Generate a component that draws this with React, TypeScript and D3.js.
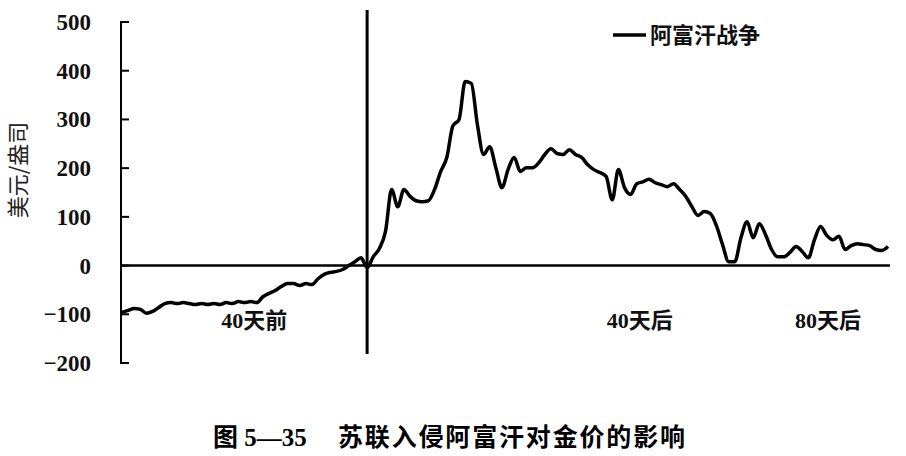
import React, { useEffect, useRef } from 'react';
import * as d3 from 'd3';

// days relative to the invasion (day 0)
const startDay = -40;

// gold price change, USD/oz, one value per day from day -40 to day 85
const priceChange: number[] = [
  -96, -92, -88, -90, -98, -94, -86, -78, -76, -78,
  -76, -78, -80, -78, -80, -78, -80, -76, -78, -74,
  -76, -74, -76, -64, -57, -51, -43, -37, -37, -41,
  -37, -39, -27, -18, -14, -12, -8, 0, 8, 16,
  -4,
  18, 35, 70, 156, 121, 156, 142, 133, 131, 133,
  156, 193, 222, 287, 300, 378, 374, 289, 228, 244,
  201, 160, 197, 222, 193, 201, 201, 211, 228, 240,
  230, 228, 238, 228, 222, 207, 197, 191, 183, 135,
  197, 160, 146, 168, 172, 177, 170, 166, 162, 168,
  156, 142, 121, 103, 111, 107, 82, 43, 8, 8,
  57, 90, 57, 86, 64, 33, 18, 18, 27, 39,
  29, 16, 53, 80, 62, 53, 60, 33, 41, 45,
  43, 41, 33, 31, 39,
];

const yTicks = [500, 400, 300, 200, 100, 0, -100, -200];

const xLabels = [
  { day: -18.4, text: '40天前' },
  { day: 44.5, text: '40天后' },
  { day: 75.2, text: '80天后' },
];

const seriesName = '阿富汗战争';
const yTitle = '美元/盎司';
const figTitle = '图 5—35';
const figCaption = '苏联入侵阿富汗对金价的影响';

const W = 906;
const H = 456;
const serif = '"Liberation Serif", "DejaVu Serif", serif';
const cjk = '"Noto Sans CJK SC", "Noto Sans CJK TC", sans-serif';

const App: React.FC = () => {
  const svgRef = useRef<SVGSVGElement>(null);

  useEffect(() => {
    if (!svgRef.current) return;
    const svg = d3.select(svgRef.current);
    svg.selectAll('*').remove();

    const data = priceChange.map((v, i) => ({ day: startDay + i, v }));
    const lastDay = startDay + priceChange.length - 1;

    const x = d3.scaleLinear().domain([startDay, lastDay]).range([122, 888]);
    const y = d3.scaleLinear().domain([-200, 500]).range([363, 22]);

    svg.append('rect').attr('width', W).attr('height', H).attr('fill', '#fff');

    // y axis
    const axisX = 121;
    svg
      .append('line')
      .attr('x1', axisX)
      .attr('x2', axisX)
      .attr('y1', y(500) - 1)
      .attr('y2', y(-200) + 1)
      .attr('stroke', '#000')
      .attr('stroke-width', 2);

    yTicks.forEach((t) => {
      svg
        .append('line')
        .attr('x1', axisX)
        .attr('x2', axisX + 8)
        .attr('y1', y(t))
        .attr('y2', y(t))
        .attr('stroke', '#000')
        .attr('stroke-width', 2);
      svg
        .append('text')
        .attr('x', 91)
        .attr('y', y(t))
        .attr('dy', '0.35em')
        .attr('text-anchor', 'end')
        .attr('font-family', serif)
        .attr('font-weight', 'bold')
        .attr('font-size', '23px')
        .attr('fill', '#111')
        .text(t < 0 ? `−${Math.abs(t)}` : String(t));
    });

    // y title
    svg
      .append('text')
      .attr('transform', `translate(26, 170) rotate(-90)`)
      .attr('text-anchor', 'middle')
      .attr('font-family', cjk)
      .attr('font-size', '22px')
      .attr('fill', '#222')
      .text(yTitle);

    // zero line
    svg
      .append('line')
      .attr('x1', axisX)
      .attr('x2', 890)
      .attr('y1', y(0))
      .attr('y2', y(0))
      .attr('stroke', '#000')
      .attr('stroke-width', 2.5);

    // event line at day 0
    svg
      .append('line')
      .attr('x1', x(0))
      .attr('x2', x(0))
      .attr('y1', 10)
      .attr('y2', 354)
      .attr('stroke', '#000')
      .attr('stroke-width', 3);

    // x labels
    xLabels.forEach((l) => {
      svg
        .append('text')
        .attr('x', x(l.day))
        .attr('y', 328)
        .attr('text-anchor', 'middle')
        .attr('font-family', `${serif}, ${cjk}`)
        .attr('font-weight', 'bold')
        .attr('font-size', '22px')
        .attr('fill', '#111')
        .text(l.text);
    });

    // series
    const line = d3
      .line<{ day: number; v: number }>()
      .x((d) => x(d.day))
      .y((d) => y(d.v))
      .curve(d3.curveMonotoneX);

    svg
      .append('path')
      .attr('d', line(data)!)
      .attr('fill', 'none')
      .attr('stroke', '#000')
      .attr('stroke-width', 3.5)
      .attr('stroke-linejoin', 'round');

    // legend
    svg
      .append('line')
      .attr('x1', 613)
      .attr('x2', 646)
      .attr('y1', 35)
      .attr('y2', 35)
      .attr('stroke', '#000')
      .attr('stroke-width', 3.5);
    svg
      .append('text')
      .attr('x', 650)
      .attr('y', 35)
      .attr('dy', '0.36em')
      .attr('font-family', cjk)
      .attr('font-weight', 'bold')
      .attr('font-size', '22px')
      .attr('fill', '#111')
      .text(seriesName);

    // figure caption
    svg
      .append('text')
      .attr('x', 213)
      .attr('y', 446)
      .attr('font-family', `${serif}, ${cjk}`)
      .attr('font-weight', 'bold')
      .attr('font-size', '25px')
      .attr('fill', '#000')
      .text(figTitle);
    svg
      .append('text')
      .attr('x', 338)
      .attr('y', 446)
      .attr('font-family', cjk)
      .attr('font-weight', 'bold')
      .attr('font-size', '25px')
      .attr('textLength', 347)
      .attr('fill', '#000')
      .text(figCaption);
  }, []);

  return (
    <svg
      ref={svgRef}
      width={W}
      height={H}
      style={{ position: 'absolute', left: 0, top: 0, display: 'block' }}
    />
  );
};

export default App;
